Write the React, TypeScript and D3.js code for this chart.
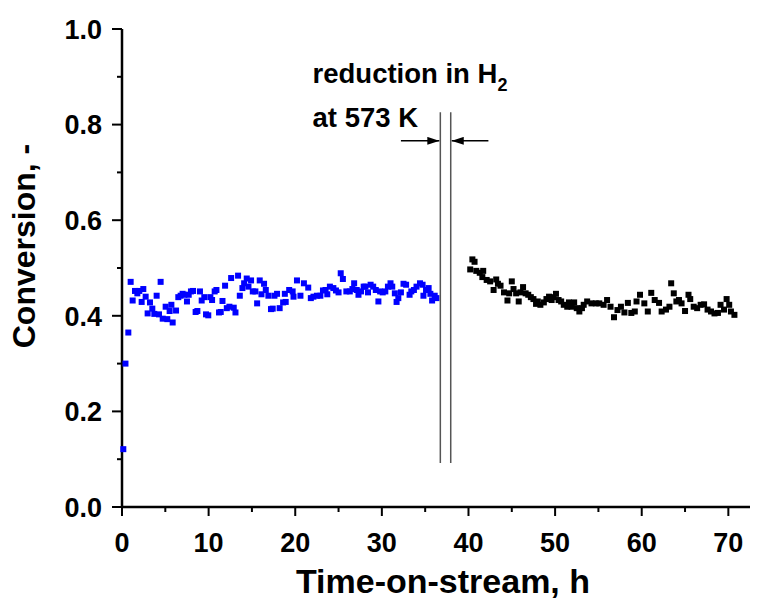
import React from "react";
import * as d3 from "d3";

const blueT = [0.15,0.4,0.73,1.0,1.23,1.5,1.77,2.0,2.27,2.46,2.73,2.96,3.23,3.5,3.73,4.0,4.27,4.46,4.7,5.04,5.23,5.5,5.7,5.85,6.24,6.5,6.77,7.0,7.2,7.5,7.7,7.96,8.2,8.5,8.7,9.0,9.2,9.5,9.7,9.96,10.2,10.4,10.7,10.9,11.2,11.4,11.6,11.9,12.1,12.4,12.6,12.9,13.1,13.4,13.6,13.9,14.1,14.4,14.6,14.9,15.1,15.4,15.6,15.9,16.1,16.4,16.6,16.9,17.2,17.4,17.6,17.9,18.2,18.6,18.8,18.9,19.3,19.7,19.8,20.2,20.6,21.0,21.5,21.8,22.1,22.5,22.9,23.2,23.5,23.7,24.0,24.4,24.7,25.0,25.25,25.5,25.9,26.3,26.6,26.8,27.1,27.3,27.6,27.9,28.1,28.4,28.7,29.0,29.3,29.6,29.8,30.1,30.4,30.7,31.0,31.2,31.5,31.7,31.9,32.2,32.5,32.8,33.2,33.4,33.7,34.0,34.4,34.7,34.8,35.1,35.4,35.6,35.8,36.1,36.3];
const blueV = [0.121,0.30,0.365,0.471,0.432,0.452,0.447,0.452,0.429,0.456,0.44,0.405,0.428,0.415,0.404,0.442,0.403,0.471,0.394,0.419,0.393,0.41,0.423,0.386,0.411,0.439,0.442,0.446,0.444,0.43,0.444,0.451,0.452,0.408,0.41,0.451,0.432,0.439,0.403,0.401,0.439,0.433,0.451,0.454,0.407,0.408,0.431,0.463,0.416,0.419,0.479,0.417,0.407,0.484,0.442,0.458,0.468,0.478,0.461,0.474,0.451,0.451,0.426,0.474,0.445,0.467,0.454,0.442,0.414,0.415,0.442,0.446,0.416,0.428,0.446,0.429,0.454,0.451,0.44,0.474,0.442,0.468,0.459,0.437,0.44,0.442,0.442,0.453,0.454,0.445,0.461,0.458,0.453,0.449,0.489,0.477,0.451,0.451,0.456,0.468,0.454,0.444,0.451,0.461,0.461,0.449,0.465,0.461,0.454,0.43,0.451,0.449,0.451,0.461,0.468,0.461,0.447,0.429,0.437,0.449,0.467,0.465,0.444,0.451,0.454,0.461,0.468,0.465,0.442,0.454,0.458,0.446,0.432,0.442,0.437];

const blackT = [40.2,40.45,40.7,40.9,41.3,41.6,41.7,42.1,42.5,42.9,43.2,43.4,43.7,44.1,44.5,44.7,45.0,45.2,45.5,45.8,46.0,46.3,46.6,46.9,47.2,47.5,47.8,48.0,48.3,48.7,49.0,49.3,49.6,49.8,50.1,50.4,50.7,51.0,51.4,51.6,51.9,52.2,52.5,52.8,53.1,53.3,53.7,54.2,54.7,55.1,55.6,56.0,56.4,56.8,57.2,57.6,58.0,58.4,58.8,59.2,59.4,59.8,60.3,60.7,61.1,61.5,62.0,62.3,62.8,63.2,63.4,63.7,64.0,64.3,64.6,65.0,65.4,65.6,66.0,66.4,66.8,67.2,67.6,68.0,68.4,68.8,69.1,69.5,69.8,70.1,70.3,70.7];
const blackV = [0.497,0.518,0.513,0.494,0.49,0.481,0.494,0.475,0.472,0.454,0.476,0.467,0.463,0.449,0.432,0.447,0.472,0.456,0.447,0.43,0.449,0.46,0.447,0.444,0.439,0.435,0.425,0.43,0.423,0.428,0.435,0.44,0.433,0.439,0.446,0.433,0.43,0.423,0.419,0.428,0.419,0.428,0.416,0.409,0.416,0.423,0.43,0.426,0.426,0.426,0.423,0.433,0.419,0.397,0.412,0.419,0.407,0.427,0.406,0.409,0.43,0.444,0.426,0.409,0.448,0.433,0.427,0.409,0.413,0.419,0.468,0.447,0.43,0.433,0.426,0.41,0.444,0.435,0.419,0.416,0.423,0.424,0.413,0.409,0.405,0.406,0.423,0.413,0.435,0.423,0.409,0.402];

const xTicks = [0, 10, 20, 30, 40, 50, 60, 70];
const xMinor = [5, 15, 25, 35, 45, 55, 65];
const yTicks = [0, 0.2, 0.4, 0.6, 0.8, 1.0];
const yMinor = [0.1, 0.3, 0.5, 0.7, 0.9];

const xTitle = "Time-on-stream, h";
const yTitle = "Conversion, -";

const W = 761, H = 605;
const FONT = "'Liberation Sans', Arial, sans-serif";

export default function App() {
  const x = d3.scaleLinear().domain([0, 72.5]).range([122, 750]);
  const y = d3.scaleLinear().domain([0, 1]).range([507, 29]);
  const ms = 6;
  const y0 = y(0);
  const x0 = x(0);
  const lineTop = y(0.826), lineBot = y(0.092);
  const arrowY = y(0.766);
  const lx1 = x(36.75), lx2 = x(37.95);
  return (
    <svg width={W} height={H} style={{ position: "absolute", left: 0, top: 0, background: "#fff" }} fontFamily={FONT} fontWeight="bold">
      <defs>
        <marker id="ah" markerWidth="12" markerHeight="8" refX="12" refY="4" orient="auto" markerUnits="userSpaceOnUse">
          <path d="M0,0 L12,4 L0,8 Z" fill="#000" />
        </marker>
      </defs>
      {/* axes */}
      <line x1={x0} x2={x0} y1={y(1)} y2={y0} stroke="#000" strokeWidth={2.5} />
      <line x1={x0 - 1} x2={x(72.5)} y1={y0} y2={y0} stroke="#000" strokeWidth={2.5} />
      {yTicks.map((t) => (
        <g key={"y" + t}>
          <line x1={x0 - 10} x2={x0} y1={y(t)} y2={y(t)} stroke="#000" strokeWidth={2} />
          <text x={x0 - 20} y={y(t)} dy="0.36em" textAnchor="end" fontSize={27}>{t.toFixed(1)}</text>
        </g>
      ))}
      {yMinor.map((t) => (
        <line key={"ym" + t} x1={x0 - 5} x2={x0} y1={y(t)} y2={y(t)} stroke="#000" strokeWidth={2} />
      ))}
      {xTicks.map((t) => (
        <g key={"x" + t}>
          <line x1={x(t)} x2={x(t)} y1={y0} y2={y0 + 9} stroke="#000" strokeWidth={2} />
          <text x={x(t)} y={y0 + 45} textAnchor="middle" fontSize={27}>{t}</text>
        </g>
      ))}
      {xMinor.map((t) => (
        <line key={"xm" + t} x1={x(t)} x2={x(t)} y1={y0} y2={y0 + 5} stroke="#000" strokeWidth={2} />
      ))}
      <text x={443} y={593} textAnchor="middle" fontSize={34}>{xTitle}</text>
      <text transform={`translate(35,246) rotate(-90)`} textAnchor="middle" fontSize={32}>{yTitle}</text>
      {/* data */}
      {blueT.map((t, i) => (
        <rect key={"b" + i} x={x(t) - ms / 2} y={y(blueV[i]) - ms / 2} width={ms} height={ms} fill="#0000ff" />
      ))}
      {blackT.map((t, i) => (
        <rect key={"k" + i} x={x(t) - ms / 2} y={y(blackV[i]) - ms / 2} width={ms} height={ms} fill="#000" />
      ))}
      {/* annotation */}
      <line x1={lx1} x2={lx1} y1={lineTop} y2={lineBot} stroke="#555" strokeWidth={1.5} />
      <line x1={lx2} x2={lx2} y1={lineTop} y2={lineBot} stroke="#555" strokeWidth={1.5} />
      <line x1={x(32.2)} x2={lx1 - 1} y1={arrowY} y2={arrowY} stroke="#000" strokeWidth={1.5} markerEnd="url(#ah)" />
      <line x1={x(42.3)} x2={lx2 + 1} y1={arrowY} y2={arrowY} stroke="#000" strokeWidth={1.5} markerEnd="url(#ah)" />
      <text x={x(22.0)} y={y(0.887)} fontSize={27.5}>
        reduction in H<tspan dy={8} fontSize={18}>2</tspan>
      </text>
      <text x={x(22.0)} y={y(0.795)} fontSize={27.5}>at 573 K</text>
    </svg>
  );
}
